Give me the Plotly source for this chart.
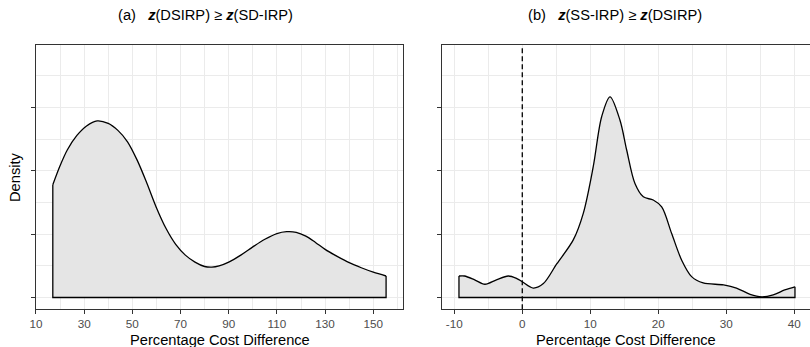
import plotly.graph_objects as go

# ---- data ----
# Panel (a): z(DSIRP) >= z(SD-IRP)
a_x = [17.0, 20, 23, 27, 31, 35.4, 40, 44, 48, 52, 56, 60, 64, 68, 72, 76, 80, 83, 86,
       90, 95, 100, 105, 110, 114, 118, 122, 126, 130, 135, 140, 145, 150, 155.3]
a_y = [1.78, 2.08, 2.33, 2.56, 2.71, 2.79, 2.75, 2.64, 2.46, 2.17, 1.81, 1.42, 1.09, 0.84,
       0.67, 0.56, 0.49, 0.48, 0.50, 0.56, 0.67, 0.80, 0.92, 1.01, 1.04, 1.03, 0.97, 0.87,
       0.76, 0.65, 0.55, 0.47, 0.40, 0.34]

# Panel (b): z(SS-IRP) >= z(DSIRP)
b_x = [-9.31, -8.5, -7.0, -5.5, -3.8, -2.06, -0.8, 0.0, 1.62, 3.1, 5.06, 7.5, 8.97, 10.44,
       11.68, 12.9, 14.37, 15.35, 16.57, 17.8, 19.26, 20.5, 21.97, 23.44, 24.9, 26.6, 29.6,
       31.5, 33.5, 35.2, 36.9, 38.6, 40.1]
b_y = [0.34, 0.34, 0.28, 0.21, 0.28, 0.34, 0.30, 0.25, 0.15, 0.22, 0.53, 0.91, 1.33, 2.07,
       2.86, 3.17, 2.80, 2.33, 1.80, 1.59, 1.54, 1.43, 1.01, 0.59, 0.33, 0.23, 0.20,
       0.15, 0.05, 0.01, 0.04, 0.12, 0.17]

a_ticks = [10, 30, 50, 70, 90, 110, 130, 150]
b_ticks = [-10, 0, 10, 20, 30, 40]
y_ticks = [0, 1, 2, 3]
ref_line_x = 0

title_a = "(a)\u00a0\u00a0\u00a0<b><i>z</i></b>(DSIRP)\u00a0\u2265\u00a0<b><i>z</i></b>(SD-IRP)"
title_b = "(b)\u00a0\u00a0\u00a0<b><i>z</i></b>(SS-IRP)\u00a0\u2265\u00a0<b><i>z</i></b>(DSIRP)"
x_title = "Percentage Cost Difference"
y_title = "Density"

W, H = 810, 347
FONT = "Liberation Sans, Arial, Helvetica, sans-serif"
FILL = "#e5e5e5"
LINE = "black"

fig = go.Figure()


def add_density(xs, ys, xa, ya):
    fig.add_trace(go.Scatter(
        x=xs, y=ys, mode="lines", xaxis=xa, yaxis=ya,
        line=dict(color=LINE, width=1.3, shape="spline", smoothing=0.9),
        fill="tozeroy", fillcolor=FILL, showlegend=False, hoverinfo="skip"))
    fig.add_trace(go.Scatter(
        x=[xs[0], xs[0], xs[-1], xs[-1]], y=[ys[0], 0, 0, ys[-1]],
        mode="lines", xaxis=xa, yaxis=ya,
        line=dict(color=LINE, width=1.3), showlegend=False, hoverinfo="skip"))


add_density(a_x, a_y, "x", "y")
add_density(b_x, b_y, "x2", "y2")


def px_x(p):
    return p / W


def px_y(p):
    return 1 - p / H


axis_common = dict(
    automargin=False,
    showline=True, linecolor="#333333", linewidth=1.1,
    ticks="outside", ticklen=4, tickwidth=1, tickcolor="#333333",
    showgrid=True, gridcolor="#ebebeb", gridwidth=1, zeroline=False,
    tickfont=dict(family=FONT, size=11.7, color="#4d4d4d"),
)

ydom = [px_y(309.3), px_y(45.3)]
yr = [-0.186, 3.984]

fig.update_layout(
    width=W, height=H,
    margin=dict(l=0, r=0, t=0, b=0, autoexpand=False),
    paper_bgcolor="white", plot_bgcolor="white",
    font=dict(family=FONT, color="black"),
    xaxis=dict(axis_common, domain=[px_x(35.7), px_x(403.3)], range=[9.9, 162.44],
               tickmode="linear", tick0=a_ticks[0], dtick=a_ticks[1] - a_ticks[0],
               minor=dict(dtick=10, tick0=0, showgrid=True, gridcolor="#ebebeb", gridwidth=1),
               mirror=True, anchor="y"),
    yaxis=dict(axis_common, domain=ydom, range=yr,
               tickmode="array", tickvals=y_ticks, showticklabels=False,
               minor=dict(dtick=0.5, tick0=0, showgrid=True, gridcolor="#ebebeb", gridwidth=1),
               mirror=True, anchor="x"),
    xaxis2=dict(axis_common, domain=[px_x(441.7), 1.0], range=[-11.85, 42.31],
                tickmode="array", tickvals=b_ticks, ticktext=[str(t) for t in b_ticks],
                minor=dict(dtick=5, tick0=0, showgrid=True, gridcolor="#ebebeb", gridwidth=1),
                mirror=True, anchor="y2"),
    yaxis2=dict(axis_common, domain=ydom, range=yr,
                tickmode="array", tickvals=y_ticks, showticklabels=False,
                minor=dict(dtick=0.5, tick0=0, showgrid=True, gridcolor="#ebebeb", gridwidth=1),
                mirror=False, anchor="x2"),
    shapes=[dict(type="line", xref="x2", yref="y2 domain", x0=ref_line_x, x1=ref_line_x,
                 y0=0, y1=1, line=dict(color="black", width=1.3, dash="5px,3px"),
                 layer="above")],
)

ann = [
    dict(text=title_a, x=px_x(205.5), y=px_y(15), font=dict(size=14.67)),
    dict(text=title_b, x=px_x(615), y=px_y(15), font=dict(size=14.67)),
    dict(text=x_title, x=px_x(219.5), y=px_y(340), font=dict(size=14.67)),
    dict(text=x_title, x=px_x(625.8), y=px_y(340), font=dict(size=14.67)),
    dict(text=y_title, x=px_x(15), y=px_y(177), font=dict(size=14.67), textangle=-90),
]
for a in ann:
    a.update(xref="paper", yref="paper", showarrow=False, xanchor="center", yanchor="middle")
    a["font"].update(family=FONT, color="black")
fig.update_layout(annotations=ann)

fig.write_html("out.html")
